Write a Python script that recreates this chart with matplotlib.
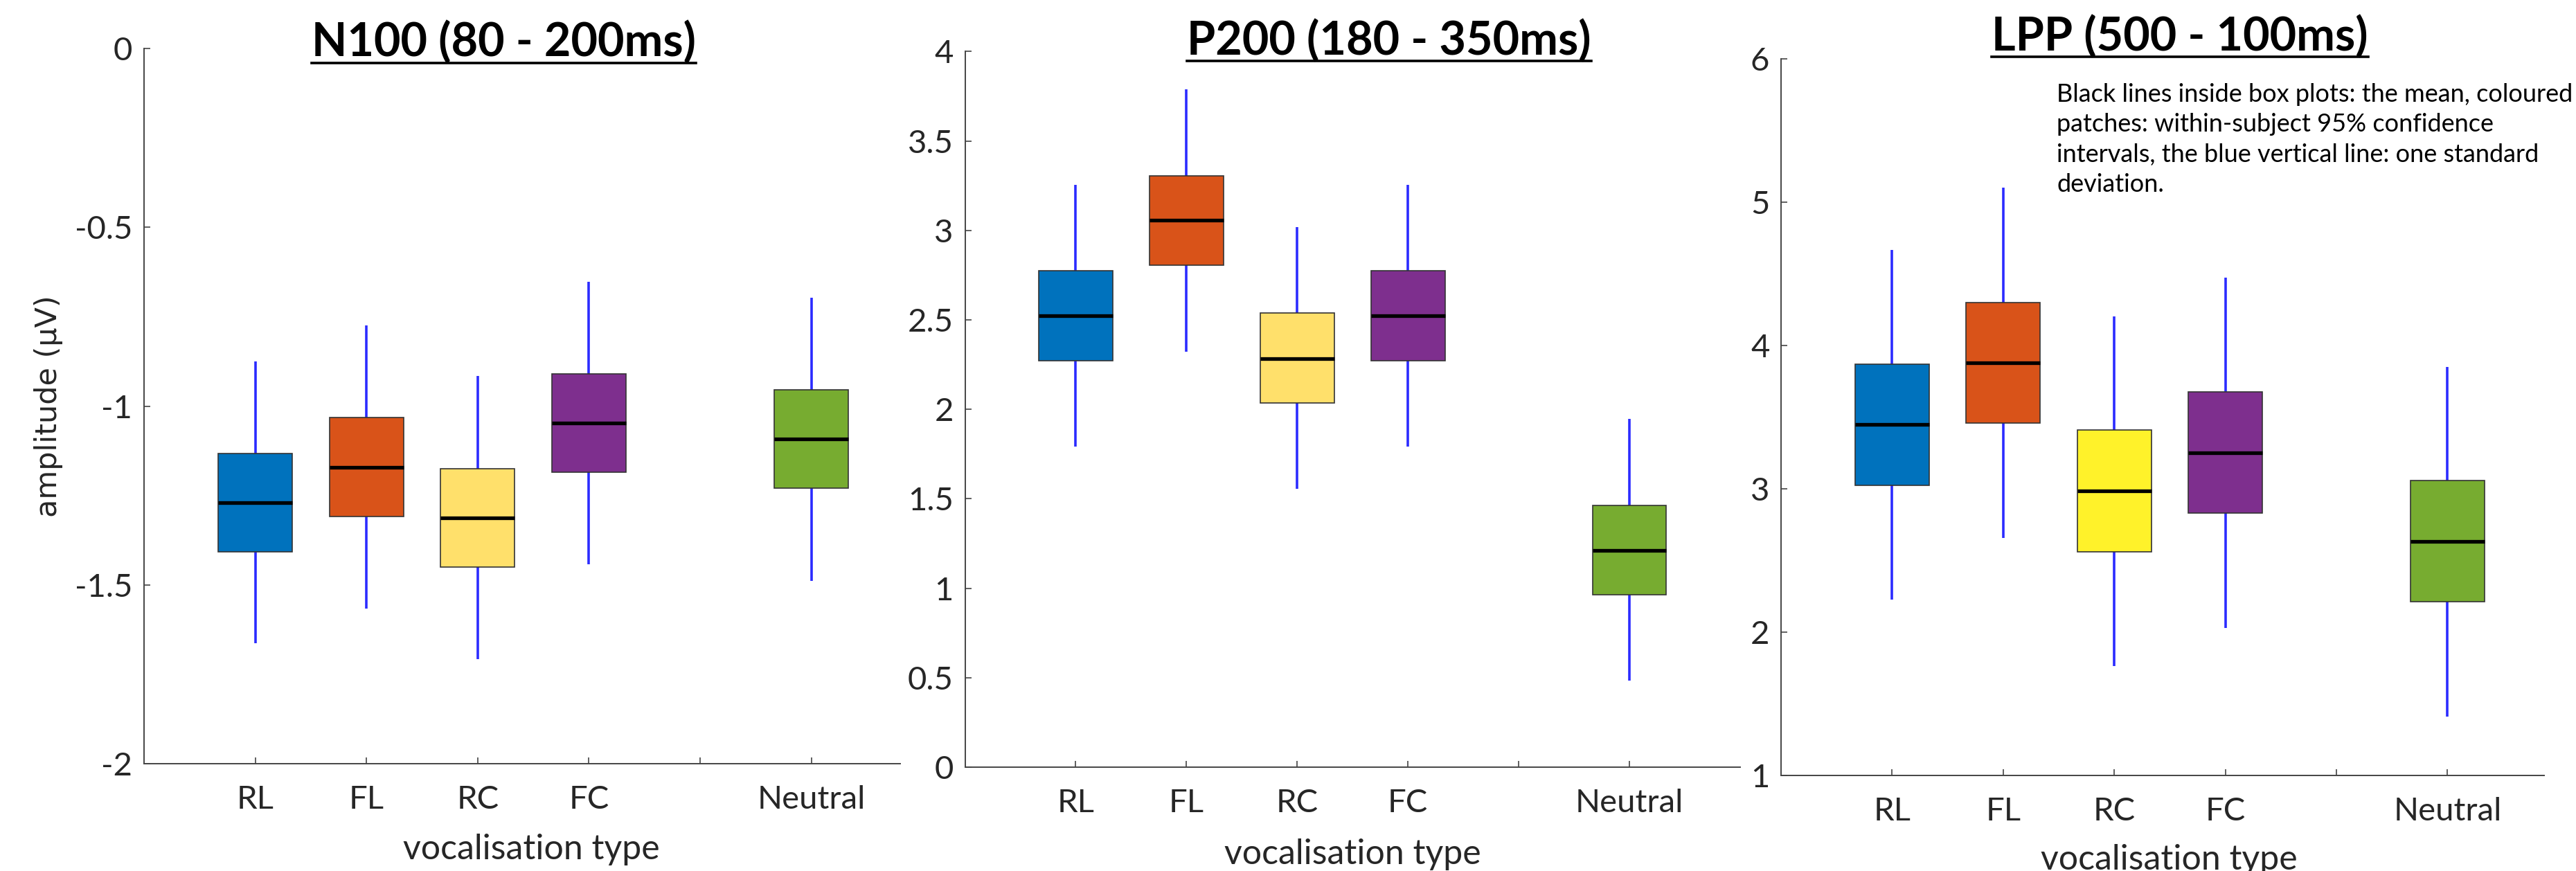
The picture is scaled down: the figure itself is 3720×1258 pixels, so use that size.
import numpy as np
import matplotlib.pyplot as plt
from matplotlib.patches import Rectangle
from matplotlib.lines import Line2D

plt.rcParams['font.family'] = ['Liberation Sans Narrow', 'Lato', 'DejaVu Sans']

conditions = ["RL", "FL", "RC", "FC", "Neutral"]
positions = [1, 2, 3, 4, 6]

# N100 (80 - 200ms)
n100_mean = [-1.270, -1.171, -1.312, -1.047, -1.092]
n100_ci_low = [-1.407, -1.309, -1.450, -1.184, -1.230]
n100_ci_high = [-1.133, -1.032, -1.175, -0.909, -0.955]
n100_sd_low = [-1.664, -1.566, -1.708, -1.443, -1.488]
n100_sd_high = [-0.874, -0.775, -0.916, -0.652, -0.696]

# P200 (180 - 350ms)
p200_mean = [2.523, 3.056, 2.284, 2.523, 1.212]
p200_ci_low = [2.272, 2.807, 2.036, 2.272, 0.962]
p200_ci_high = [2.774, 3.305, 2.537, 2.776, 1.463]
p200_sd_low = [1.790, 2.322, 1.554, 1.793, 0.482]
p200_sd_high = [3.254, 3.788, 3.019, 3.254, 1.946]

# LPP (500 - 100ms)
lpp_mean = [3.447, 3.879, 2.985, 3.252, 2.631]
lpp_ci_low = [3.022, 3.457, 2.560, 2.830, 2.211]
lpp_ci_high = [3.871, 4.301, 3.408, 3.674, 3.056]
lpp_sd_low = [2.227, 2.659, 1.763, 2.030, 1.413]
lpp_sd_high = [4.668, 5.099, 4.204, 4.471, 3.851]

colors_a = ["#0072BD", "#D95319", "#FFE06B", "#7E2F8E", "#77AC30"]
colors_b = ["#0072BD", "#D95319", "#FFF22A", "#7E2F8E", "#77AC30"]

W, H = 3720, 1258
TXT = "#262626"


def rect(l, r, t, b):
    return [l / W, 1 - b / H, (r - l) / W, (b - t) / H]


def draw_panel(ax, mean, lo, hi, sdlo, sdhi, colors, xmax, ylim, yticks):
    for i, x in enumerate(positions):
        ax.plot([x, x], [sdlo[i], sdhi[i]], color="#2b2bff", lw=2.6, zorder=1,
                solid_capstyle="butt")
        ax.add_patch(Rectangle((x - 1 / 3, lo[i]), 2 / 3, hi[i] - lo[i],
                               facecolor=colors[i], edgecolor="#333333", lw=1.2, zorder=2))
        ax.plot([x - 1 / 3, x + 1 / 3], [mean[i], mean[i]], color="black", lw=3.8,
                zorder=3, solid_capstyle="butt")
    ax.set_xlim(0, xmax)
    ax.set_ylim(*ylim)
    ax.set_xticks([1, 2, 3, 4, 5, 6])
    ax.set_xticklabels(["RL", "FL", "RC", "FC", "", "Neutral"])
    ax.set_yticks(yticks)
    ax.set_yticklabels([("%g" % v) for v in yticks])
    for s in ["top", "right"]:
        ax.spines[s].set_visible(False)
    for s in ["left", "bottom"]:
        ax.spines[s].set_color("#444444")
        ax.spines[s].set_linewidth(1.4)
    ax.tick_params(direction="in", length=6.8, width=1.2, color="#444444",
                   labelcolor=TXT, labelsize=34)
    ax.tick_params(axis="x", pad=22)
    ax.tick_params(axis="y", pad=12)


fig = plt.figure(figsize=(W / 100, H / 100), dpi=100)

ax1 = fig.add_axes(rect(208, 1300, 70.2, 1103))
ax2 = fig.add_axes(rect(1393.5, 2513, 74.3, 1108))
ax3 = fig.add_axes(rect(2572, 3674, 84.9, 1120))

draw_panel(ax1, n100_mean, n100_ci_low, n100_ci_high, n100_sd_low, n100_sd_high,
           colors_a, 6.8, (-2, 0), [-2, -1.5, -1, -0.5, 0])
draw_panel(ax2, p200_mean, p200_ci_low, p200_ci_high, p200_sd_low, p200_sd_high,
           colors_a, 7.0, (0, 4), [0, 0.5, 1, 1.5, 2, 2.5, 3, 3.5, 4])
draw_panel(ax3, lpp_mean, lpp_ci_low, lpp_ci_high, lpp_sd_low, lpp_sd_high,
           colors_b, 6.87, (1, 6), [1, 2, 3, 4, 5, 6])

for ax, xc, yc in [(ax1, 0.512, -0.098), (ax2, 0.5, -0.1), (ax3, 0.508, -0.096)]:
    ax.set_xlabel("vocalisation type", fontsize=36, color=TXT)
    ax.xaxis.set_label_coords(xc, yc)

ax1.set_ylabel("amplitude (µV)", fontsize=31, color=TXT, family="DejaVu Sans")
ax1.yaxis.set_label_coords((70 - 208) / 1092, 0.5)
ax1.yaxis.label.set_va("center")

titles = [("N100 (80 - 200ms)", 727, 81.6, 90.6),
          ("P200 (180 - 350ms)", 2006, 79.6, 87.5),
          ("LPP (500 - 100ms)", 3148, 73.5, 82)]
title_objs = []
for txt, xc, base, ul in titles:
    t = fig.text(xc / W, 1 - base / H, txt, ha="center", va="baseline",
                 fontsize=48, fontweight="bold", color="black")
    title_objs.append((t, ul))

fig.text(2970 / W, 1 - 120 / H,
         "Black lines inside box plots: the mean, coloured\n"
         "patches: within-subject 95% confidence\n"
         "intervals, the blue vertical line: one standard\n"
         "deviation.",
         ha="left", va="top", fontsize=26, color="black", linespacing=1.38)

fig.canvas.draw()
for t, ul in title_objs:
    bb = t.get_window_extent()
    fig.add_artist(Line2D([bb.x0 / W, bb.x1 / W], [1 - ul / H, 1 - ul / H],
                          color="black", lw=2.6, transform=fig.transFigure))

fig.savefig("out.png", dpi=100)
